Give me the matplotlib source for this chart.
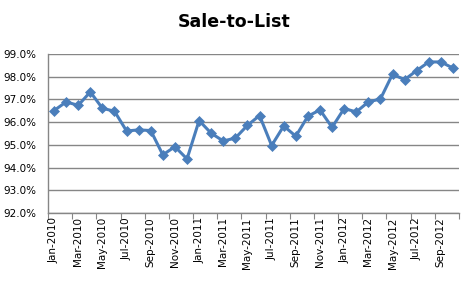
import numpy as np
import matplotlib.pyplot as plt
from matplotlib.ticker import FixedLocator, FuncFormatter

# Monthly sale-to-list ratio (%), Jan-2010 .. Oct-2012
months = ['Jan-2010', 'Feb-2010', 'Mar-2010', 'Apr-2010', 'May-2010', 'Jun-2010',
          'Jul-2010', 'Aug-2010', 'Sep-2010', 'Oct-2010', 'Nov-2010', 'Dec-2010',
          'Jan-2011', 'Feb-2011', 'Mar-2011', 'Apr-2011', 'May-2011', 'Jun-2011',
          'Jul-2011', 'Aug-2011', 'Sep-2011', 'Oct-2011', 'Nov-2011', 'Dec-2011',
          'Jan-2012', 'Feb-2012', 'Mar-2012', 'Apr-2012', 'May-2012', 'Jun-2012',
          'Jul-2012', 'Aug-2012', 'Sep-2012', 'Oct-2012']
sale_to_list = [96.51, 96.89, 96.74, 97.33, 96.61, 96.48,
                95.61, 95.66, 95.63, 94.56, 94.92, 94.38,
                96.07, 95.51, 95.17, 95.30, 95.86, 96.29,
                94.97, 95.83, 95.38, 96.26, 96.54, 95.77,
                96.60, 96.45, 96.89, 97.02, 98.11, 97.87,
                98.27, 98.65, 98.65, 98.38]
y_ticks = [92, 93, 94, 95, 96, 97, 98, 99]

x = np.arange(len(months))
grey = '#868686'

fig = plt.figure(figsize=(4.68, 2.84), dpi=100)
ax = fig.add_axes([48 / 468, 71 / 284, 411 / 468, 159 / 284])

ax.plot(x, sale_to_list, color='#4A7EBB', linewidth=2.2, marker='D',
        markersize=4.8, markeredgewidth=0.5, zorder=3)

ax.set_xlim(-0.5, len(months) - 0.5)
ax.set_ylim(92, 99)
ax.set_yticks(y_ticks)
ax.yaxis.set_major_formatter(FuncFormatter(lambda v, p: f'{v:.1f}%'))
ax.yaxis.grid(True, color=grey, linewidth=1.0)
ax.set_axisbelow(True)

# category boundaries as tick marks, labels at every other month
ax.xaxis.set_major_locator(FixedLocator(np.arange(-0.5, len(months), 2)))
ax.xaxis.set_major_formatter(FuncFormatter(lambda v, p: ''))
ax.xaxis.set_minor_locator(FixedLocator(x[::2]))
ax.set_xticklabels(months[::2], minor=True, rotation=90)
ax.tick_params(axis='x', which='major', length=4, color=grey, direction='out')
ax.tick_params(axis='x', which='minor', length=0, labelsize=7.5, pad=3)
ax.tick_params(axis='y', length=0, labelsize=7.5, pad=8.5)

for side in ['top', 'right']:
    ax.spines[side].set_visible(False)
for side in ['left', 'bottom']:
    ax.spines[side].set_color(grey)
    ax.spines[side].set_linewidth(1.0)

fig.text(0.5, 1 - 22 / 284, 'Sale-to-List', ha='center', va='center',
         fontsize=12.5, fontweight='bold')

fig.savefig('out.png', dpi=100)
